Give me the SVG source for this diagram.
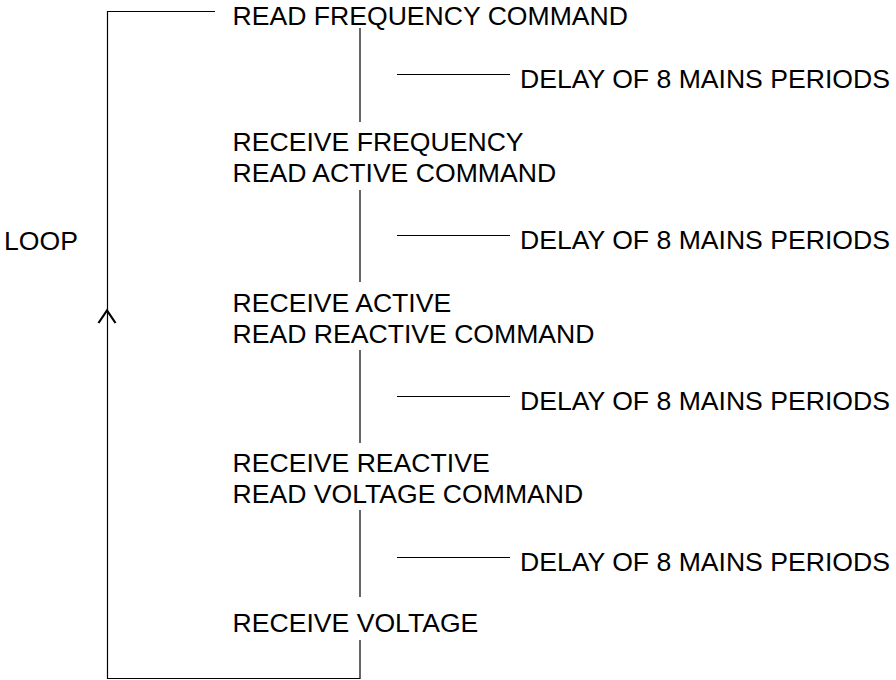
<svg xmlns="http://www.w3.org/2000/svg" width="896" height="680" viewBox="0 0 896 680">
<style>
text{font-family:"Liberation Sans",Arial,sans-serif;font-size:26.6px;fill:#000}
.ln{stroke:#000;stroke-width:1.2;fill:none}
.arr{stroke:#000;stroke-width:2.2;fill:none}
</style>
<rect width="896" height="680" fill="#fff"/>
<g id="connectors">
<path class="ln" d="M215,11.5 H107.5 V678.5 H360 V640"/>
<path class="arr" d="M98.5,323 L107,310.5 L115.5,323"/>
<line class="ln" x1="360" y1="28" x2="360" y2="122"/>
<line class="ln" x1="360" y1="190" x2="360" y2="282"/>
<line class="ln" x1="360" y1="350" x2="360" y2="443"/>
<line class="ln" x1="360" y1="510" x2="360" y2="597"/>
<line class="ln" x1="397" y1="74.5" x2="510" y2="74.5"/>
<line class="ln" x1="397" y1="235.5" x2="510" y2="235.5"/>
<line class="ln" x1="397" y1="396.5" x2="510" y2="396.5"/>
<line class="ln" x1="397" y1="557.5" x2="510" y2="557.5"/>
</g>
<g id="loop"><text x="4" y="249.5">LOOP</text></g>
<g id="n1"><text x="232.5" y="25">READ FREQUENCY COMMAND</text></g>
<g id="n2"><text x="232.5" y="150.7">RECEIVE FREQUENCY</text><text x="232.5" y="182.3">READ ACTIVE COMMAND</text></g>
<g id="n3"><text x="232.5" y="311.7">RECEIVE ACTIVE</text><text x="232.5" y="343.3">READ REACTIVE COMMAND</text></g>
<g id="n4"><text x="232.5" y="471.7">RECEIVE REACTIVE</text><text x="232.5" y="503.3">READ VOLTAGE COMMAND</text></g>
<g id="n5"><text x="232.5" y="632.3">RECEIVE VOLTAGE</text></g>
<g id="d1"><text x="520" y="87.7">DELAY OF 8 MAINS PERIODS</text></g>
<g id="d2"><text x="520" y="248.7">DELAY OF 8 MAINS PERIODS</text></g>
<g id="d3"><text x="520" y="409.7">DELAY OF 8 MAINS PERIODS</text></g>
<g id="d4"><text x="520" y="570.7">DELAY OF 8 MAINS PERIODS</text></g>
</svg>
